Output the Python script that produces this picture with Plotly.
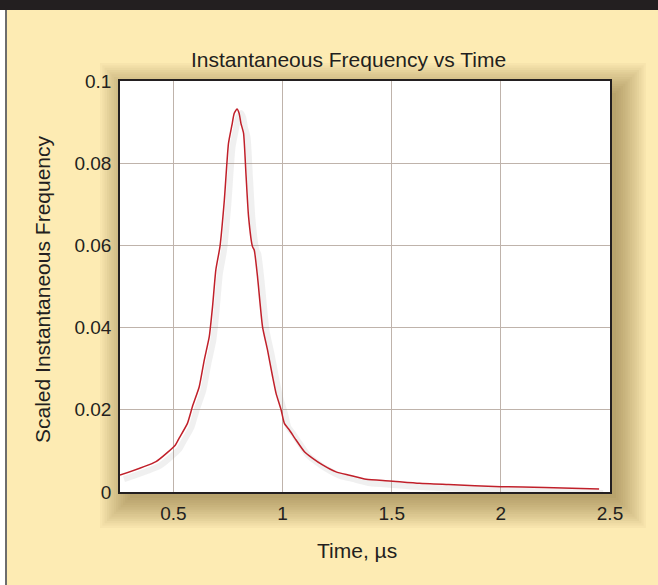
import plotly.graph_objects as go

# Data
time_us = [0.255, 0.42, 0.508, 0.526, 0.564, 0.587, 0.618, 0.641, 0.664, 0.679, 0.694,
           0.713, 0.733, 0.752, 0.768, 0.778, 0.791, 0.801, 0.809, 0.821, 0.832, 0.844,
           0.862, 0.870, 0.885, 0.908, 0.931, 0.954, 0.970, 0.993, 1.008, 1.031, 1.061,
           1.10, 1.138, 1.183, 1.245, 1.306, 1.383, 1.49, 1.627, 1.76, 2.0, 2.2, 2.45]
freq = [0.0041, 0.0074, 0.0114, 0.0131, 0.0167, 0.0208, 0.0256, 0.0321, 0.0378, 0.0451, 0.054,
        0.0597, 0.071, 0.0848, 0.0893, 0.0921, 0.0932, 0.0921, 0.0897, 0.0873, 0.0775, 0.067,
        0.0597, 0.0589, 0.0524, 0.0402, 0.0345, 0.0281, 0.024, 0.020, 0.0167, 0.0151, 0.0127,
        0.0098, 0.0082, 0.0066, 0.0049, 0.0041, 0.0031, 0.0027, 0.0021, 0.0018, 0.0013, 0.0011, 0.0007]

x_ticks = [0.5, 1, 1.5, 2, 2.5]
x_ticklabels = ["0.5", "1", "1.5", "2", "2.5"]
y_ticks = [0, 0.02, 0.04, 0.06, 0.08, 0.1]
y_ticklabels = ["0", "0.02", "0.04", "0.06", "0.08", "0.1"]

W, H = 658, 585
L, R, T, B = 120, 48, 81, 93
pw, ph = W - L - R, H - T - B

def px(xp):
    return (xp - L) / pw

def py(yp):
    return (H - B - yp) / ph

FONT = "Liberation Sans, Arial, sans-serif"
BG = "#fdebb3"
INK = "#231f20"

shapes = []
# top dark bar
shapes.append(dict(type="rect", xref="paper", yref="paper", x0=px(0), x1=px(W), y0=py(0), y1=py(10),
                   fillcolor=INK, line_width=0, layer="below"))
# left white strip and gray border line
shapes.append(dict(type="rect", xref="paper", yref="paper", x0=px(0), x1=px(5), y0=py(10), y1=py(H),
                   fillcolor="#ffffff", line_width=0, layer="below"))
shapes.append(dict(type="rect", xref="paper", yref="paper", x0=px(5), x1=px(7), y0=py(10), y1=py(H),
                   fillcolor="#6d6d6d", line_width=0, layer="below"))
# plot drop shadow (offset to the lower right, soft)
for i in range(14):
    e = 2.3 * i
    shapes.append(dict(type="rect", xref="paper", yref="paper",
                       x0=px(L + 10 - e), x1=px(L + pw + 6 + e),
                       y0=py(H - B + 6 + e), y1=py(T + 12 - e),
                       fillcolor="#6b5418", opacity=0.038, line_width=0, layer="below"))
# white plot face over the shadow
shapes.append(dict(type="rect", xref="paper", yref="paper", x0=0, x1=1, y0=0, y1=1,
                   fillcolor="#ffffff", line_width=0, layer="below"))

fig = go.Figure()
# soft shadow of the curve
dx = 4 / pw * (2.5 - 0.255)
dy = 4 / ph * 0.1
fig.add_trace(go.Scatter(x=[t + dx for t in time_us], y=[f - dy for f in freq], mode="lines",
                         line=dict(color="rgba(150,150,150,0.14)", width=6, shape="spline", smoothing=0.5),
                         hoverinfo="skip", showlegend=False))
fig.add_trace(go.Scatter(x=time_us, y=freq, mode="lines",
                         line=dict(color="#c0202a", width=1.5, shape="spline", smoothing=0.5),
                         showlegend=False))

axis_common = dict(showgrid=True, gridcolor="#bfb3ab", gridwidth=1.3, zeroline=False,
                   showline=True, linecolor=INK, linewidth=1.6, mirror=True,
                   ticks="", tickfont=dict(family=FONT, size=19, color=INK))

fig.update_layout(
    width=W, height=H,
    margin=dict(l=L, r=R, t=T, b=B, pad=0),
    paper_bgcolor=BG, plot_bgcolor="rgba(0,0,0,0)",
    shapes=shapes,
    xaxis=dict(range=[0.255, 2.5], tickvals=x_ticks, ticktext=x_ticklabels,
               ticklabelstandoff=3, **axis_common),
    yaxis=dict(range=[0, 0.1], tickvals=y_ticks, ticktext=y_ticklabels,
               ticklabelstandoff=3, **axis_common),
    annotations=[
        dict(text="Instantaneous Frequency vs Time", xref="paper", yref="paper",
             x=px(348), y=py(59), showarrow=False, xanchor="center", yanchor="middle",
             font=dict(family=FONT, size=21, color=INK)),
        dict(text="Time, µs", xref="paper", yref="paper",
             x=px(357), y=py(550), showarrow=False, xanchor="center", yanchor="middle",
             font=dict(family=FONT, size=21, color=INK)),
        dict(text="Scaled Instantaneous Frequency", xref="paper", yref="paper",
             x=px(42), y=py(289), showarrow=False, xanchor="center", yanchor="middle",
             textangle=-90, font=dict(family=FONT, size=21, color=INK)),
    ],
)

fig.write_html("out.html")
